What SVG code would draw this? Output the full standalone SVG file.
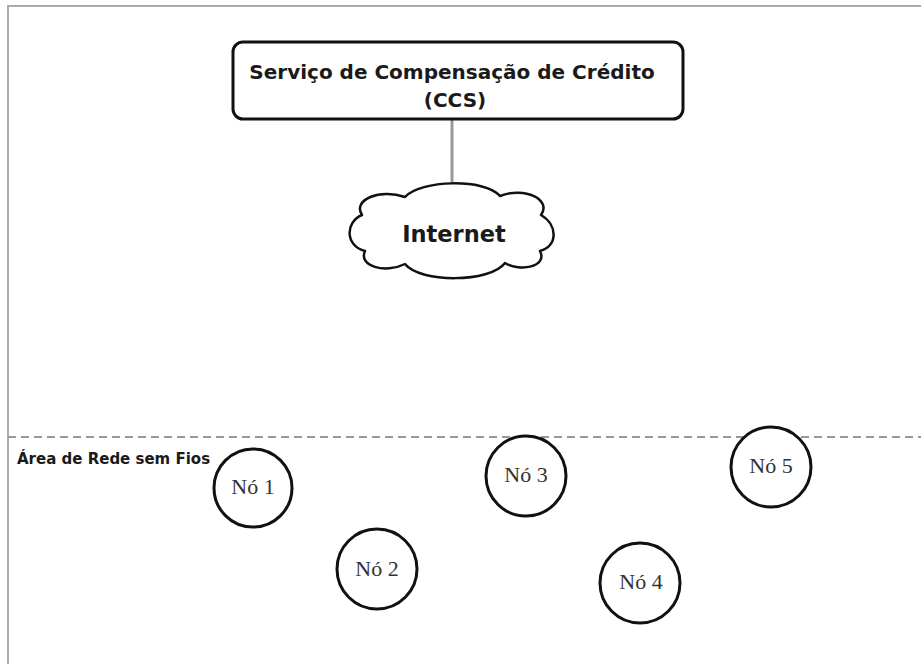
<svg xmlns="http://www.w3.org/2000/svg" width="921" height="664" viewBox="0 0 921 664">
  <style>
    .frame { fill: none; stroke: #aaaaaa; stroke-width: 2; }
    .sep { fill: none; stroke: #999999; stroke-width: 2; stroke-dasharray: 8 5; }
    .box { fill: #ffffff; stroke: #111111; stroke-width: 3; }
    .cloud { fill: #ffffff; stroke: #111111; stroke-width: 2.5; stroke-linejoin: round; }
    .link { stroke: #999999; stroke-width: 3; fill: none; }
    .node { fill: #ffffff; stroke: #111111; stroke-width: 3; }
    .sans { font-family: "DejaVu Sans", Verdana, sans-serif; font-weight: bold; fill: #1a1a1a; }
    .serif { font-family: "Liberation Serif", "DejaVu Serif", serif; font-size: 22px; fill: #333333; text-anchor: middle; }
  </style>

  <rect width="921" height="664" fill="#ffffff"/>

  <!-- outer frame (top and left edges) -->
  <path class="frame" d="M 8 664 L 8 6 L 921 6"/>

  <!-- boundary of the wireless area -->
  <line class="sep" x1="8" y1="437" x2="921" y2="437"/>

  <g id="connectors">
    <line class="link" x1="452" y1="119" x2="452" y2="187"/>
  </g>

  <g id="ccs">
    <rect class="box" x="233" y="42" width="450" height="77" rx="10" ry="10"/>
    <text class="sans" x="452" y="79" font-size="20" text-anchor="middle">Serviço de Compensação de Crédito</text>
    <text class="sans" x="455" y="107" font-size="20" text-anchor="middle">(CCS)</text>
  </g>

  <g id="internet">
    <path class="cloud" d="M 362 215 C 352 200, 380 188, 405 197 C 420 180, 485 178, 500 196 C 525 186, 552 200, 541 215 C 558 225, 558 246, 540 251 C 548 267, 520 272, 505 263 C 490 283, 420 283, 405 264 C 385 274, 358 266, 365 251 C 345 246, 345 222, 362 215 Z"/>
    <text class="sans" x="454" y="242" font-size="22.5" text-anchor="middle">Internet</text>
  </g>

  <g id="area-label">
    <text class="sans" x="17" y="464" font-size="15">Área de Rede sem Fios</text>
  </g>

  <g id="node1">
    <circle class="node" cx="253" cy="488" r="39"/>
    <text class="serif" x="253" y="494">Nó 1</text>
  </g>
  <g id="node2">
    <circle class="node" cx="377" cy="569" r="40"/>
    <text class="serif" x="377" y="576">Nó 2</text>
  </g>
  <g id="node3">
    <circle class="node" cx="526" cy="476" r="40"/>
    <text class="serif" x="526" y="482">Nó 3</text>
  </g>
  <g id="node4">
    <circle class="node" cx="640" cy="583" r="40"/>
    <text class="serif" x="641" y="589">Nó 4</text>
  </g>
  <g id="node5">
    <circle class="node" cx="771" cy="467" r="40"/>
    <text class="serif" x="771" y="473">Nó 5</text>
  </g>
</svg>
